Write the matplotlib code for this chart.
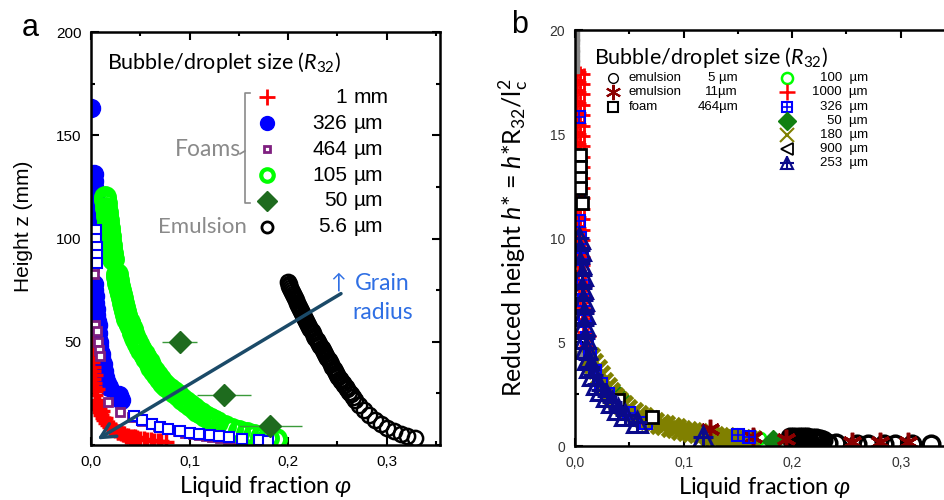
import matplotlib
matplotlib.use("Agg")
import matplotlib.pyplot as plt
from matplotlib.ticker import MultipleLocator, FuncFormatter

plt.rcParams['font.family'] = ['Liberation Sans', 'DejaVu Sans']
plt.rcParams['mathtext.fontset'] = 'custom'
plt.rcParams['mathtext.rm'] = 'Lato'
plt.rcParams['mathtext.it'] = 'Lato:italic'

# ---------------- panel a : height z vs liquid fraction ----------------
# 1 mm foam (red crosses)
a_red_x = [0.001, 0.001, 0.001, 0.001, 0.001, 0.0015, 0.0015, 0.002, 0.002, 0.002, 0.0025,
           0.003, 0.003, 0.004, 0.004, 0.005, 0.006, 0.007, 0.008, 0.009, 0.010, 0.012,
           0.013, 0.015, 0.017, 0.019, 0.021, 0.024, 0.027, 0.030, 0.033, 0.036, 0.040,
           0.043, 0.047, 0.050, 0.054, 0.057, 0.061, 0.064, 0.068, 0.071, 0.076,
           0.004, 0.006, 0.008, 0.011, 0.014, 0.018, 0.022, 0.027, 0.032, 0.038, 0.045]
a_red_y = [54, 51, 48, 46, 44, 42, 40, 38, 36, 34, 32,
           30, 28, 26, 24, 22, 20.5, 19, 17.5, 16, 14.5, 13,
           12, 10.8, 9.8, 8.8, 8, 7.2, 6.4, 5.7, 5.1, 4.6, 4.1,
           3.7, 3.3, 3.0, 2.7, 2.5, 2.3, 2.1, 1.9, 1.8, 1.6,
           34, 27, 21, 16.5, 13, 10, 8, 6.3, 5.3, 4.4, 3.7]
# 326 um foam (blue filled circles)
a_blue_x = [0.0, 0.003, 0.003, 0.003, 0.004, 0.004, 0.003, 0.004, 0.004,
            0.003, 0.003, 0.004, 0.004, 0.005, 0.005, 0.006, 0.006, 0.007, 0.007, 0.008,
            0.009, 0.010, 0.011, 0.013, 0.014, 0.016, 0.018, 0.028, 0.030,
            0.007, 0.008, 0.010, 0.012, 0.003, 0.004, 0.005, 0.006]
a_blue_y = [163, 131, 128, 125, 122, 119, 116, 113, 110,
            78, 75, 72, 69, 66, 63, 60, 57, 54, 51, 48,
            45, 42, 39, 36, 33, 30, 28, 24, 22,
            58, 50, 44, 39, 52, 46, 40, 35]
# 326 um foam, lower part (blue open squares with error bars)
a_bsq_x = [0.005, 0.005, 0.006, 0.006, 0.006, 0.044, 0.052, 0.062, 0.070, 0.078, 0.090,
           0.100, 0.110, 0.121, 0.130, 0.140, 0.153, 0.170, 0.180]
a_bsq_y = [104, 100, 96, 92, 88, 14, 12, 10, 8.8, 7.7, 6.8,
           6.0, 5.4, 4.8, 4.3, 3.8, 3.0, 2.4, 2.0]
# 464 um foam (purple small squares)
a_pur_x = [0.002, 0.003, 0.003, 0.003, 0.003, 0.003, 0.004, 0.006, 0.007, 0.008, 0.009,
           0.017, 0.029, 0.042, 0.052, 0.068, 0.078, 0.088, 0.095, 0.103, 0.110,
           0.117, 0.123, 0.131, 0.139, 0.149]
a_pur_y = [101, 96, 93, 89, 86, 83, 58, 55, 50, 46, 43,
           21, 16, 13.5, 11.6, 9.2, 7.7, 6.6, 5.8, 5.2, 4.8,
           4.3, 3.9, 3.4, 2.9, 2.0]
# 105 um foam (green open circles)
a_grn_x = [0.014, 0.0145, 0.015, 0.0155, 0.016, 0.0165, 0.017, 0.0175, 0.018, 0.0185,
           0.019, 0.0195, 0.020, 0.0205, 0.021, 0.0215, 0.022,
           0.026, 0.0265, 0.027, 0.0275, 0.028, 0.029, 0.030, 0.031, 0.032, 0.033, 0.034,
           0.0355, 0.037, 0.0385, 0.040, 0.0415, 0.043, 0.045, 0.047, 0.049, 0.051, 0.0535,
           0.056, 0.0585, 0.061, 0.064, 0.067, 0.070, 0.073, 0.0765, 0.080, 0.084, 0.088,
           0.092, 0.096, 0.100, 0.104, 0.108, 0.112, 0.116, 0.120, 0.124, 0.128,
           0.136, 0.143, 0.150, 0.158, 0.165, 0.172, 0.180, 0.188]
a_grn_y = [120, 118.5, 117, 115, 113, 111, 109, 107, 105, 103,
           101, 99, 97, 95, 93, 91.5, 90,
           83, 81.5, 80, 78.5, 77, 75, 73, 71, 69, 67, 65,
           63, 61, 59.5, 58, 56, 54, 52, 50, 48, 46, 44,
           42, 40, 38, 36, 34, 32, 30, 28.5, 27, 25.5, 24,
           22.5, 21, 19.5, 18, 16.7, 15.5, 14.2, 13, 12, 11,
           9.3, 7.7, 6.6, 5.6, 4.7, 4.0, 3.3, 2.7]
# 50 um foam (green diamonds with error bars)
a_dia_x = [0.090, 0.135, 0.182]
a_dia_y = [50, 24, 9]
a_dia_err = [0.018, 0.027, 0.032]
# 5.6 um emulsion (black open circles)
a_blk_x = [0.200, 0.2005, 0.201, 0.202, 0.203, 0.204, 0.205, 0.206, 0.207, 0.208, 0.209,
           0.210, 0.211, 0.212, 0.213, 0.214, 0.215, 0.216, 0.217, 0.218, 0.219, 0.220,
           0.221, 0.2225, 0.224, 0.225, 0.226, 0.2275, 0.229, 0.230, 0.231, 0.2325, 0.234,
           0.235, 0.236, 0.237, 0.238, 0.2395, 0.241, 0.242, 0.243, 0.2445, 0.246, 0.2475,
           0.249, 0.250, 0.251, 0.2525, 0.254, 0.2555, 0.257, 0.2585, 0.260, 0.262, 0.264,
           0.266, 0.268, 0.272, 0.277, 0.282, 0.288, 0.294, 0.300, 0.307, 0.314, 0.321, 0.329]
a_blk_y = [79, 78, 77, 76, 75, 74, 73, 72, 71, 70, 69,
           68, 67, 66, 65, 64, 63, 62, 61, 60, 59, 58,
           57, 56, 55, 54, 53, 52, 51, 50, 49, 48, 47,
           46, 45, 44, 43, 42, 41, 40, 39, 38, 37, 36,
           35, 34, 33, 32, 31, 30, 29, 28, 27, 25.8, 24.5,
           23.3, 22, 19.5, 17, 14.5, 12, 10, 8.3, 6.8, 5.4, 4.2, 3.2]

a_sizes = ["1", "326", "464", "105", "50", "5.6"]
a_units = ["mm", "µm", "µm", "µm", "µm", "µm"]

# ---------------- panel b : reduced height vs liquid fraction ----------------
b_red_x = [0.002, 0.005, 0.008, 0.002, 0.005, 0.008, 0.002, 0.005, 0.008, 0.002, 0.005, 0.008,
           0.002, 0.005, 0.008, 0.002, 0.005, 0.008, 0.002, 0.005, 0.008, 0.002, 0.005, 0.008,
           0.002, 0.005, 0.008, 0.002, 0.005, 0.008, 0.002, 0.005, 0.008, 0.002, 0.005, 0.008,
           0.002, 0.005, 0.008, 0.002, 0.005, 0.008, 0.002, 0.005, 0.008, 0.002, 0.005, 0.008,
           0.002, 0.005, 0.008, 0.002, 0.005, 0.008, 0.002, 0.005, 0.008, 0.002, 0.005, 0.008,
           0.003, 0.006, 0.009, 0.003, 0.007, 0.010, 0.004, 0.008, 0.011, 0.005, 0.009, 0.012,
           0.006, 0.010, 0.013, 0.007, 0.011, 0.014, 0.009, 0.013, 0.016,
           0.020, 0.025, 0.030, 0.040, 0.050, 0.060, 0.070, 0.090, 0.110]
b_red_y = [18.1, 18.0, 17.9, 17.6, 17.5, 17.4, 17.1, 17.0, 16.9, 16.6, 16.5, 16.4,
           16.1, 16.0, 15.9, 15.6, 15.5, 15.4, 15.1, 15.0, 14.9, 14.6, 14.5, 14.4,
           14.1, 14.0, 13.9, 13.6, 13.5, 13.4, 13.1, 13.0, 12.9, 12.6, 12.5, 12.4,
           12.1, 12.0, 11.9, 11.6, 11.5, 11.4, 11.1, 11.0, 10.9, 10.6, 10.5, 10.4,
           10.1, 10.0, 9.9, 9.7, 9.6, 9.5, 9.3, 9.2, 9.1, 8.9, 8.8, 8.7,
           8.4, 8.3, 8.2, 7.9, 7.8, 7.7, 7.3, 7.2, 7.1, 6.7, 6.6, 6.5,
           6.1, 6.0, 5.9, 5.5, 5.4, 5.3, 4.8, 4.7, 4.6,
           3.6, 3.0, 2.6, 2.0, 1.6, 1.3, 1.1, 0.9, 0.75]
b_gray_x = [0.001, 0.001, 0.001, 0.001, 0.001, 0.001, 0.001, 0.001, 0.004, 0.010, 0.020, 0.050]
b_gray_y = [19.9, 19.6, 19.4, 19.1, 18.9, 18.6, 18.4, 18.1, 4.4, 3.6, 2.9, 1.4]
b_e5_x = [0.198, 0.200, 0.202, 0.204, 0.206, 0.208, 0.210, 0.212, 0.214, 0.216, 0.218,
          0.220, 0.222, 0.224, 0.226, 0.228,
          0.233, 0.240, 0.260, 0.270, 0.285, 0.295, 0.310, 0.328]
b_e5_y = [0.45, 0.35, 0.44, 0.34, 0.43, 0.33, 0.42, 0.32, 0.41, 0.31, 0.40,
          0.30, 0.38, 0.29, 0.36, 0.28,
          0.15, 0.15, 0.12, 0.12, 0.10, 0.10, 0.08, 0.08]
b_e11_x = [0.124, 0.164, 0.194, 0.255, 0.281, 0.307]
b_e11_y = [0.80, 0.43, 0.33, 0.20, 0.20, 0.20]
b_f464_x = [0.005, 0.005, 0.005, 0.005, 0.006, 0.040, 0.071]
b_f464_y = [14.0, 13.4, 12.9, 12.4, 11.7, 2.2, 1.4]
b_g100_x = [0.030, 0.040, 0.170]
b_g100_y = [2.6, 2.3, 0.40]
b_b326_x = [0.004, 0.004, 0.004, 0.005, 0.006, 0.007, 0.008, 0.009, 0.011, 0.014, 0.018,
            0.024, 0.030, 0.040, 0.050, 0.065, 0.150, 0.160]
b_b326_y = [15.8, 12.2, 10.8, 10.0, 9.0, 8.0, 7.0, 6.0, 5.2, 4.4, 3.6,
            3.0, 2.5, 2.0, 1.6, 1.1, 0.55, 0.45]
b_d50_x = [0.040, 0.182]
b_d50_y = [2.4, 0.25]
b_o180_x = [0.014, 0.017, 0.020, 0.023, 0.026, 0.029, 0.032, 0.036, 0.040, 0.044, 0.048,
            0.053, 0.058, 0.063, 0.068, 0.073, 0.078, 0.083, 0.088, 0.093, 0.098, 0.103,
            0.108, 0.113, 0.118, 0.123, 0.128, 0.133, 0.138, 0.143, 0.148, 0.153, 0.158, 0.163]
b_o180_y = [4.3, 4.0, 3.7, 3.4, 3.1, 2.85, 2.6, 2.35, 2.15, 1.95, 1.8,
            1.65, 1.5, 1.38, 1.27, 1.17, 1.08, 1.0, 0.92, 0.85, 0.78, 0.72,
            0.66, 0.61, 0.56, 0.52, 0.48, 0.45, 0.42, 0.39, 0.36, 0.34, 0.32, 0.30]
b_t253_x = [0.004, 0.005, 0.005, 0.006, 0.006, 0.007, 0.008, 0.008, 0.009, 0.010, 0.012,
            0.014, 0.017, 0.020, 0.024, 0.029, 0.034, 0.040, 0.046, 0.057, 0.118]
b_t253_y = [10.0, 9.4, 8.8, 8.2, 7.6, 7.0, 6.4, 5.8, 5.2, 4.7, 4.2,
            3.8, 3.4, 3.0, 2.7, 2.4, 2.1, 1.8, 1.5, 1.15, 0.45]

b_left_names = ["emulsion", "emulsion", "foam"]
b_left_sizes = ["5 µm", "11µm", "464µm"]
b_right_sizes = ["100  µm", "1000  µm", "326  µm", "50  µm", "180  µm", "900  µm", "253  µm"]

GEO = ['Lato', 'DejaVu Sans']


def comma(v, pos):
    return f"{v:.1f}".replace(".", ",")


def style(ax):
    for s in ax.spines.values():
        s.set_linewidth(1.8)
    ax.tick_params(which='both', direction='in', top=True, right=True, width=1.5)
    ax.tick_params(which='major', length=6, labelsize=11, pad=7)
    ax.tick_params(which='minor', length=3)
    ax.xaxis.set_major_locator(MultipleLocator(0.1))
    ax.xaxis.set_minor_locator(MultipleLocator(0.05))
    ax.xaxis.set_major_formatter(FuncFormatter(comma))


fig = plt.figure(figsize=(9.45, 5), dpi=100)

# ---------- a ----------
ax1 = fig.add_axes([0.0963, 0.11, 0.3693, 0.826])
style(ax1)
ax1.set_xlim(0, 0.354)
ax1.set_ylim(0, 200)
ax1.yaxis.set_major_locator(MultipleLocator(50))
ax1.yaxis.set_minor_locator(MultipleLocator(25))
ax1.set_yticks([50, 100, 150, 200])

ax1.plot(a_blue_x, a_blue_y, 'o', color='blue', ms=13, ls='none')
ax1.errorbar(a_bsq_x, a_bsq_y, xerr=0.006, fmt='s', color='blue', mfc='white', ms=7, mew=1.5,
             elinewidth=1, capsize=0)
ax1.plot(a_red_x, a_red_y, '+', color='red', ms=11, mew=2.5, ls='none')
ax1.plot(a_pur_x, a_pur_y, 's', color='#7f1f80', mfc='white', ms=6, mew=2, ls='none')
ax1.plot(a_grn_x, a_grn_y, 'o', color='#00ff00', mfc='none', ms=13, mew=3.5, ls='none')
ax1.errorbar(a_dia_x, a_dia_y, xerr=a_dia_err, fmt='D', color='#1e6b1e', ms=11,
             ecolor='#3a9a3a', elinewidth=1, capsize=0)
ax1.plot(a_blk_x, a_blk_y, 'o', color='black', mfc='none', ms=11, mew=1.8, ls='none')

ax1.annotate("", xy=(0.004, 2), xytext=(0.256, 74),
             arrowprops=dict(arrowstyle='->', color='#1b4a68', lw=2.5, mutation_scale=26))
ax1.text(0.685, 0.394, "↑", transform=ax1.transAxes, color='#2f6fe4', fontsize=15,
         family=GEO, va='center', ha='left')
ax1.text(0.756, 0.391, "Grain", transform=ax1.transAxes, color='#2f6fe4', fontsize=16.5,
         family=GEO, va='center', ha='left')
ax1.text(0.750, 0.320, "radius", transform=ax1.transAxes, color='#2f6fe4', fontsize=16.5,
         family=GEO, va='center', ha='left')

# legend a (built by hand)
ax1.text(0.046, 0.925, r"Bubble/droplet size ($R_{32}$)", transform=ax1.transAxes,
         fontsize=15.5, family=GEO, va='center')
leg_y = [0.842, 0.779, 0.716, 0.653, 0.592, 0.529]
ax1.plot(0.504, leg_y[0], '+', color='red', ms=11, mew=2, transform=ax1.transAxes)
ax1.plot(0.504, leg_y[1], 'o', color='blue', ms=10, transform=ax1.transAxes)
ax1.plot(0.504, leg_y[2], 's', color='#7f1f80', mfc='white', ms=5, mew=2, transform=ax1.transAxes)
ax1.plot(0.504, leg_y[3], 'o', color='#00ff00', mfc='none', ms=9, mew=3, transform=ax1.transAxes)
ax1.plot(0.504, leg_y[4], 'D', color='#1e6b1e', ms=10, transform=ax1.transAxes)
ax1.plot(0.504, leg_y[5], 'o', color='black', mfc='none', ms=8, mew=2, transform=ax1.transAxes)
for yy, s, u in zip(leg_y, a_sizes, a_units):
    ax1.text(0.734, yy, s, transform=ax1.transAxes, fontsize=15, ha='right', va='center')
    ax1.text(0.752, yy, u, transform=ax1.transAxes, fontsize=15, ha='left', va='center')

gray = '#8a8a8a'
ax1.plot([0.456, 0.441, 0.441, 0.456], [0.852, 0.852, 0.587, 0.587], color=gray, lw=1.2,
         transform=ax1.transAxes)
ax1.plot([0.427, 0.441], [0.705, 0.712], color=gray, lw=1.2, transform=ax1.transAxes)
ax1.text(0.43, 0.716, "Foams", transform=ax1.transAxes, color=gray, fontsize=16.5,
         family=GEO, ha='right', va='center')
ax1.text(0.447, 0.529, "Emulsion", transform=ax1.transAxes, color=gray, fontsize=16,
         family=GEO, ha='right', va='center')

ax1.set_xlabel(r"Liquid fraction $\varphi$", fontsize=17, family=GEO, labelpad=4)
ax1.set_ylabel("Height z (mm)", fontsize=15)
ax1.yaxis.set_label_coords(-0.166, 0.53)
fig.text(30 / 945, 1 - 28 / 500, "a", fontsize=22, ha='center', va='center')

# ---------- b ----------
ax2 = fig.add_axes([0.6085, 0.108, 0.402, 0.832])
style(ax2)
ax2.set_xlim(0, 0.35)
ax2.set_ylim(0, 20)
ax2.yaxis.set_major_locator(MultipleLocator(5))
ax2.yaxis.set_minor_locator(MultipleLocator(2.5))
ax2.tick_params(labelsize=10, labelcolor='#333333')

ax2.plot(b_red_x, b_red_y, '+', color='red', ms=8, mew=2, ls='none')
ax2.plot(b_gray_x, b_gray_y, 's', color='#888888', ms=5, ls='none')
ax2.plot(b_e5_x, b_e5_y, 'o', color='black', mfc='none', ms=12, mew=2.5, ls='none')
ax2.plot(b_g100_x, b_g100_y, 'o', color='#00ff00', mfc='none', ms=8, mew=2, ls='none')
ax2.plot(b_d50_x, b_d50_y, 'D', color='#108010', ms=11, ls='none')
ax2.plot(b_o180_x, b_o180_y, 'x', color='#808000', ms=13, mew=3.5, ls='none')
ax2.plot(b_e11_x, b_e11_y, marker=(6, 2, 0), color='#8b0000', ms=14, mew=2.5, ls='none')
ax2.plot(b_b326_x, b_b326_y, 's', color='blue', mfc='none', ms=8, mew=1.5, ls='none')
ax2.plot(b_b326_x, b_b326_y, '+', color='blue', ms=8, mew=1.2, ls='none')
ax2.plot(b_f464_x, b_f464_y, 's', color='black', mfc='white', ms=9, mew=2, ls='none')
ax2.plot(b_t253_x, b_t253_y, '^', color='#0a0a8a', mfc='none', ms=15, mew=2.2, ls='none')
ax2.plot(b_t253_x, b_t253_y, '+', color='#0a0a8a', ms=15, mew=2.2, ls='none')

ax2.text(0.05, 0.935, r"Bubble/droplet size ($R_{32}$)", transform=ax2.transAxes,
         fontsize=15.5, family=GEO, va='center')
lx, ly = 0.10, [0.885, 0.851, 0.815]
ax2.plot(lx, ly[0], 'o', color='black', mfc='none', ms=7, mew=1, transform=ax2.transAxes)
ax2.plot(lx, ly[1], marker=(6, 2, 0), color='#8b0000', ms=11, mew=1.5, transform=ax2.transAxes)
ax2.plot(lx, ly[2], 's', color='black', mfc='none', ms=7, mew=1.5, transform=ax2.transAxes)
for yy, nm, sz in zip(ly, b_left_names, b_left_sizes):
    ax2.text(0.142, yy, nm, transform=ax2.transAxes, fontsize=9.5, va='center', ha='left')
    ax2.text(0.429, yy, sz, transform=ax2.transAxes, fontsize=9.5, va='center', ha='right')

rx = 0.558
ry = [0.885, 0.851, 0.815, 0.781, 0.748, 0.714, 0.680]
ax2.plot(rx, ry[0], 'o', color='#00ff00', mfc='none', ms=8, mew=1.8, transform=ax2.transAxes)
ax2.plot(rx, ry[1], '+', color='red', ms=11, mew=1.8, transform=ax2.transAxes)
ax2.plot(rx, ry[2], 's', color='blue', mfc='none', ms=7, mew=1.5, transform=ax2.transAxes)
ax2.plot(rx, ry[2], '+', color='blue', ms=7, mew=1.2, transform=ax2.transAxes)
ax2.plot(rx, ry[3], 'D', color='#108010', ms=9, transform=ax2.transAxes)
ax2.plot(rx, ry[4], 'x', color='#808000', ms=10, mew=1.5, transform=ax2.transAxes)
ax2.plot(rx, ry[5], '<', color='black', mfc='none', ms=9, mew=1.3, transform=ax2.transAxes)
ax2.plot(rx, ry[6], '^', color='#0a0a8a', mfc='none', ms=9, mew=1.5, transform=ax2.transAxes)
ax2.plot(rx, ry[6], '+', color='#0a0a8a', ms=10, mew=1.5, transform=ax2.transAxes)
for yy, sz in zip(ry, b_right_sizes):
    ax2.text(0.771, yy, sz, transform=ax2.transAxes, fontsize=9.5, va='center', ha='right')

ax2.set_xlabel(r"Liquid fraction $\varphi$", fontsize=17, family=GEO, labelpad=4)
ax2.set_ylabel(r"Reduced height $h$* = $h$*$\mathrm{R}_{32}/\mathrm{l}_\mathrm{c}^{2}$",
               fontsize=18, family=GEO)
ax2.yaxis.set_label_coords(-0.118, 0.5)
fig.text(520 / 945, 1 - 25 / 500, "b", fontsize=22, ha='center', va='center')

fig.savefig("out.png", dpi=100)
